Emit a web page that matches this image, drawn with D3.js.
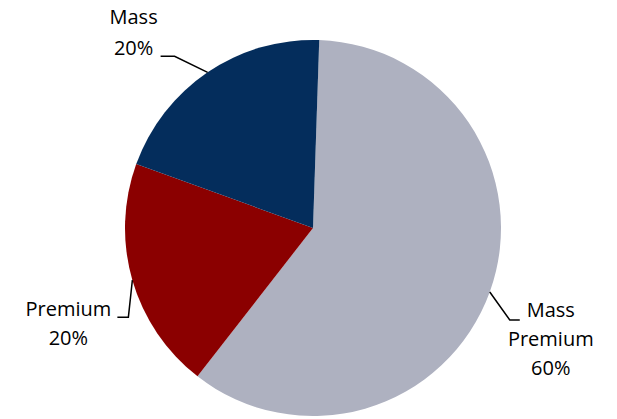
<!DOCTYPE html>
<html>
<head>
<meta charset="utf-8">
<script src="https://cdn.jsdelivr.net/npm/d3@7/dist/d3.min.js"></script>
<style>
  html, body { margin: 0; padding: 0; background: #fff; }
  svg text { font-family: "Open Sans", Lato, sans-serif; font-size: 20px; fill: #000; }
</style>
</head>
<body>
<svg id="chart" width="617" height="419"></svg>
<script>
// Market segments and their shares (%)
const segments = ["Mass Premium", "Premium", "Mass"];
const shares = [60, 20, 20];
const colors = ["#aeb1c0", "#8b0000", "#042d5c"];
// Label lines per segment
const labelLines = [["Mass", "Premium", "60%"], ["Premium", "20%"], ["Mass", "20%"]];

const width = 617, height = 419;
const cx = 313, cy = 228, radius = 188;
const startOffset = 1.9 * Math.PI / 180;

const svg = d3.select("#chart");
const g = svg.append("g").attr("transform", `translate(${cx},${cy})`);

const data = segments.map((s, i) => ({ name: s, value: shares[i], color: colors[i], lines: labelLines[i] }));

const pie = d3.pie()
  .value(d => d.value)
  .sort(null)
  .startAngle(startOffset)
  .endAngle(startOffset + 2 * Math.PI);

const arc = d3.arc().innerRadius(0).outerRadius(radius);

const arcs = pie(data);

g.selectAll("path.slice")
  .data(arcs)
  .join("path")
  .attr("class", "slice")
  .attr("d", arc)
  .attr("fill", d => d.data.color);

// Leader line: from slice edge at mid angle, a bend, then a short horizontal run.
// Text block is centred at (line end + textCx), first line at (line end + firstDy).
const leader = {
  "Mass Premium": { bend: [20, 28], run: 10, textCx: 31, firstDy: -8, lineH: 29 },
  "Premium": { bend: [-4, 37], run: -11, textCx: -49, firstDy: -6, lineH: 29 },
  "Mass": { bend: [-33, -16], run: -14, textCx: -27, firstDy: -37, lineH: 31 }
};

arcs.forEach(a => {
  const mid = (a.startAngle + a.endAngle) / 2;
  const p0 = [Math.sin(mid) * radius, -Math.cos(mid) * radius];
  const L = leader[a.data.name];
  const p1 = [p0[0] + L.bend[0], p0[1] + L.bend[1]];
  const p2 = [p1[0] + L.run, p1[1]];
  g.append("polyline")
    .attr("points", [p0, p1, p2].map(p => p.join(",")).join(" "))
    .attr("fill", "none")
    .attr("stroke", "#000")
    .attr("stroke-width", 1.5);

  const t = g.append("text")
    .attr("text-anchor", "middle")
    .attr("dominant-baseline", "middle");
  a.data.lines.forEach((s, i) => {
    t.append("tspan")
      .attr("x", p2[0] + L.textCx)
      .attr("y", p2[1] + L.firstDy + i * L.lineH)
      .text(s);
  });
});
</script>
</body>
</html>
